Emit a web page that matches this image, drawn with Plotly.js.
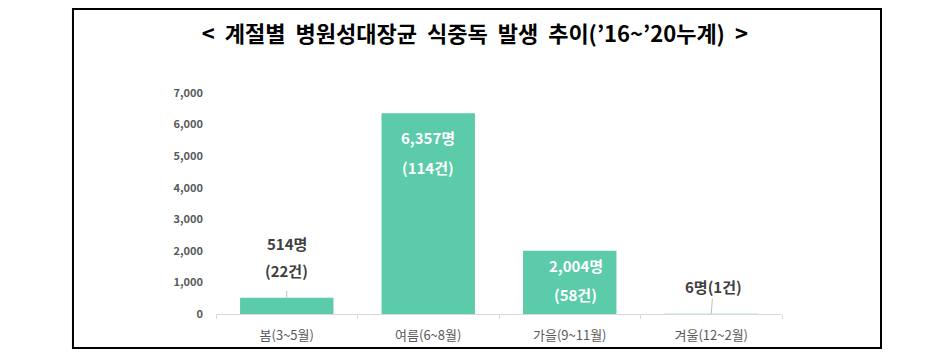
<!DOCTYPE html>
<html>
<head>
<meta charset="utf-8">
<script src="https://cdn.plot.ly/plotly-3.0.1.min.js"></script>
<style>html,body{margin:0;padding:0;background:#fff;}#chart{width:946px;height:360px;}</style>
</head>
<body>
<div id="chart"></div>
<script>
// Data
var seasons = ['봄(3~5월)', '여름(6~8월)', '가을(9~11월)', '겨울(12~2월)'];
var patients = [514, 6357, 2004, 6];
var cases = [22, 114, 58, 1];
var yTickVals = [0, 1000, 2000, 3000, 4000, 5000, 6000, 7000];

// Label placement style (not data): 'outside' or 'inside'
var labelMode = ['outside', 'inside', 'inside', 'single'];
var insideOffsets = [null, [-24, -54], [-15, -44], null];
var insideXShift = [0, 0, 6, 0];

var FONT = '"Noto Sans CJK KR", "Noto Sans", sans-serif';
var barColor = '#5BCBAA';

function fmt(n) { return n.toLocaleString('en-US'); }

var trace = {
  type: 'bar',
  x: seasons,
  y: patients,
  marker: {color: barColor},
  width: 0.66,
  hoverinfo: 'skip'
};

var annotations = [];
seasons.forEach(function (s, i) {
  var pTxt = fmt(patients[i]) + '명';
  var cTxt = '(' + cases[i] + '건)';
  if (labelMode[i] === 'outside') {
    annotations.push({
      x: s, y: patients[i], xref: 'x', yref: 'y',
      text: cTxt, showarrow: true, arrowhead: 0, arrowwidth: 1, arrowcolor: '#BFBFBF',
      ax: 0, ay: -27, standoff: 0, startstandoff: 8,
      font: {family: FONT, size: 15, color: '#404040', weight: 'bold'}
    });
    annotations.push({
      x: s, y: patients[i], xref: 'x', yref: 'y',
      text: pTxt, showarrow: false, yshift: 54,
      font: {family: FONT, size: 15, color: '#404040', weight: 'bold'}
    });
  } else if (labelMode[i] === 'inside') {
    annotations.push({
      x: s, y: patients[i], xref: 'x', yref: 'y',
      text: pTxt, showarrow: false, yshift: insideOffsets[i][0], xshift: insideXShift[i],
      font: {family: FONT, size: 15, color: '#FFFFFF', weight: 'bold'}
    });
    annotations.push({
      x: s, y: patients[i], xref: 'x', yref: 'y',
      text: cTxt, showarrow: false, yshift: insideOffsets[i][1], xshift: insideXShift[i],
      font: {family: FONT, size: 15, color: '#FFFFFF', weight: 'bold'}
    });
  } else {
    annotations.push({
      x: s, y: patients[i], xref: 'x', yref: 'y',
      text: pTxt + cTxt, showarrow: true, arrowhead: 0, arrowwidth: 1, arrowcolor: '#BFBFBF',
      ax: 2, ay: -27, standoff: 0, startstandoff: 0,
      font: {family: FONT, size: 15, color: '#404040', weight: 'bold'}
    });
  }
});

var layout = {
  width: 946, height: 360,
  margin: {l: 216, r: 164, t: 93, b: 46, pad: 0},
  paper_bgcolor: '#FFFFFF', plot_bgcolor: '#FFFFFF',
  showlegend: false,
  bargap: 0.34,
  title: {
    text: '<  계절별  병원성대장균  식중독  발생  추이(’16~’20누계)  >',
    font: {family: FONT, size: 22, color: '#000000', weight: 'bold'},
    x: 0.502, xanchor: 'center', y: 0.906, yanchor: 'middle'
  },
  xaxis: {
    type: 'category',
    showline: true, linecolor: '#D9D9D9', linewidth: 1,
    ticks: 'outside', tickson: 'boundaries', ticklen: 4, tickcolor: '#D9D9D9',
    showgrid: false, zeroline: false,
    ticklabelstandoff: 9,
    tickfont: {family: FONT, size: 13, color: '#595959'},
    fixedrange: true
  },
  yaxis: {
    range: [0, 7000],
    tickvals: yTickVals,
    ticktext: yTickVals.map(fmt),
    showline: false, ticks: '', showgrid: false, zeroline: false,
    ticklabelstandoff: 12,
    tickfont: {family: FONT, size: 11, color: '#595959', weight: 'bold'},
    fixedrange: true
  },
  annotations: annotations,
  shapes: [{
    type: 'rect', xref: 'paper', yref: 'paper',
    x0: -0.2527, x1: 1.1749, y0: -0.1538, y1: 1.380,
    line: {color: '#000000', width: 2}, fillcolor: 'rgba(0,0,0,0)', layer: 'above'
  }]
};

Plotly.newPlot('chart', [trace], layout, {displayModeBar: false, staticPlot: true});
</script>
</body>
</html>
